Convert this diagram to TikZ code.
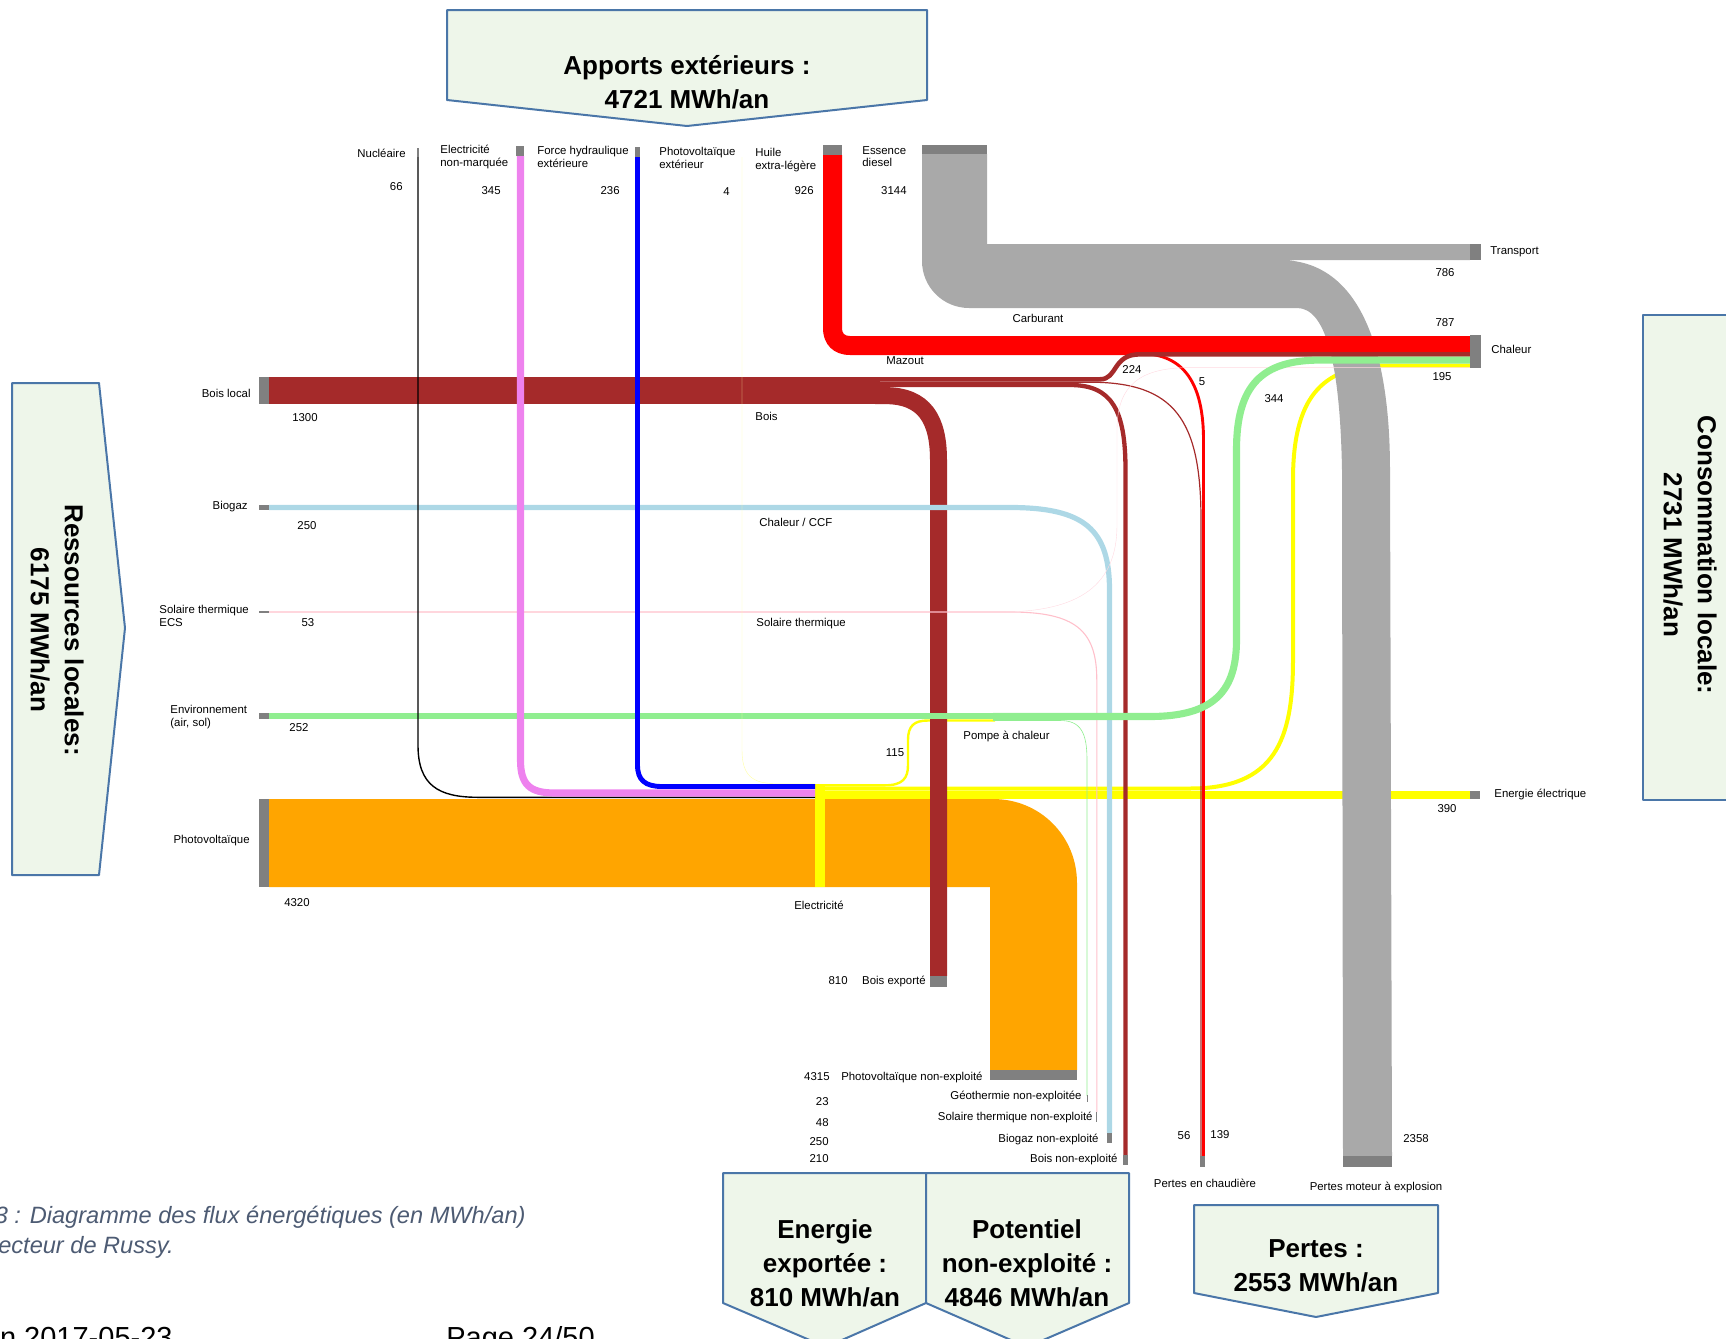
\documentclass[tikz,border=0pt]{standalone}
\usepackage{fontspec}
\setmainfont{Liberation Sans}
\usepackage{tikz}

\definecolor{boisC}{RGB}{165,42,42}
\definecolor{carbC}{RGB}{169,169,169}
\definecolor{markC}{RGB}{128,128,128}
\definecolor{biogazC}{RGB}{173,216,230}
\definecolor{solC}{RGB}{255,192,203}
\definecolor{envC}{RGB}{144,238,144}
\definecolor{pvC}{RGB}{255,165,0}
\definecolor{elecC}{RGB}{255,255,0}
\definecolor{nmC}{RGB}{238,130,238}
\definecolor{boxfill}{RGB}{238,246,234}
\definecolor{boxline}{RGB}{74,118,168}
\definecolor{capC}{RGB}{77,91,115}

\begin{document}
\begin{tikzpicture}[x=0.5pt, y=-0.5pt,
  bw/.style={line width=#1*0.5pt},
  lbl/.style={font=\fontsize{5.7}{6.1}\selectfont, inner sep=0pt, align=left},
  endbar/.style={fill=markC},
  bigbox/.style={fill=boxfill, draw=boxline, line width=1pt, line join=round},
  boxtxt/.style={font=\fontsize{13}{17}\selectfont\bfseries, align=center, inner sep=0pt}]
  \useasboundingbox (0,0) rectangle (1726,1339);
  \clip (0,0) rectangle (1726,1339);

  % photovoltaique local
  \fill[pvC] (269,799) -- (993,799) .. controls (1040,799) and (1077,836) .. (1077,883)
    -- (1077,1070) -- (990,1070) -- (990,887) -- (269,887) -- cycle;

  % electricite
  \fill[elecC] (825,790.5) rectangle (1470,799);
  \draw[elecC, bw=4] (825,788.5) -- (1190,788.5) .. controls (1275,788.5) and (1293,740) .. (1293,660)
    -- (1293,480) .. controls (1293,400) and (1320,365.6) .. (1385,365.6) -- (1470,365.6);
  \draw[elecC, bw=2.4] (815,785.3) -- (885,785.3) .. controls (903,785.3) and (908,778) .. (908,765)
    -- (908,740) .. controls (908,726) and (914,720.5) .. (928,720.5) -- (995,720.5);
  \fill[elecC] (815,786) rectangle (825,887);

  % carburant
  \fill[carbC] (922,154) -- (987,154) -- (987,244) -- (1470,244) -- (1470,260) -- (1282,260)
    .. controls (1365,262) and (1390,360) .. (1390,470) -- (1392,1156) -- (1343,1156) -- (1342,470)
    .. controls (1340,360) and (1325,308) .. (1297,308) -- (969,308)
    .. controls (943,308) and (922,287) .. (922,261) -- cycle;

  % mazout
  \fill[red] (823,155) -- (842,155) -- (842,328) .. controls (842,333) and (844,336) .. (850,336)
    -- (1470,336) -- (1470,352) -- (1140,352) -- (1140,355) -- (850,355)
    .. controls (834,355) and (823,345) .. (823,328) -- cycle;
  \draw[red, bw=2.9] (1140,353.6) .. controls (1185,353.6) and (1203.5,385) .. (1203.5,440) -- (1203.5,1156);

  % bois
  \fill[boisC] (269,377) rectangle (880,404);
  \draw[boisC, bw=4.6] (875,379.3) -- (1100,379.3) .. controls (1118,379.3) and (1112,354.3) .. (1140,354.3) -- (1470,354.3);
  \draw[boisC, bw=1.2] (875,382.2) -- (1090,382.2) .. controls (1175,382.2) and (1201,420) .. (1201,520) -- (1201,1156);
  \draw[boisC, bw=4.3] (875,385) -- (1070,385) .. controls (1112,385) and (1125.5,410) .. (1125.5,470) -- (1125.5,1155);
  \draw[boisC, bw=17] (875,395.6) -- (885,395.6) .. controls (925,395.6) and (938.5,420) .. (938.5,460) -- (938.5,976);

  % biogaz, solaire thermique, environnement
  \draw[biogazC, bw=5.2] (269,507.5) -- (1010,507.5) .. controls (1085,507.5) and (1109.5,530) .. (1109.5,590) -- (1109.5,1133);
  \draw[solC, bw=1.1] (269,612) -- (1010,612) .. controls (1075,612) and (1096.8,630) .. (1096.8,680) -- (1096.8,1112);
  \draw[solC!60, bw=0.4] (1000,612) .. controls (1080,612) and (1117,585) .. (1117,525)
    -- (1117,430) .. controls (1117,385) and (1140,367.6) .. (1190,367.6) -- (1470,367.6);
  \draw[envC, bw=5.2] (269,716) -- (995,716);
  \draw[envC, bw=7.1] (993,716.5) -- (1150,716.5) .. controls (1215,716.5) and (1236.5,690) .. (1236.5,640)
    -- (1236.5,450) .. controls (1236.5,385) and (1262,360.1) .. (1320,360.1) -- (1470,360.1);
  \draw[envC, bw=0.6] (993,720.5) -- (1060,720.5) .. controls (1081,720.5) and (1087,733) .. (1087,760) -- (1087,1096);

  % apports electriques exterieurs
  \draw[black, bw=1.4] (418,157) -- (418,745) .. controls (418,785) and (438,797.3) .. (478,797.3) -- (815,797.3);
  \draw[nmC, bw=7.1] (520.5,156) -- (520.5,760) .. controls (520.5,785) and (530,793) .. (555,793) -- (815,793);
  \draw[blue, bw=4.9] (637.5,157) -- (637.5,765) .. controls (637.5,780) and (645,786.5) .. (662,786.5) -- (815,786.5);
  \draw[elecC!35, bw=0.4] (742,157) -- (742,750) .. controls (742,775) and (752,783.5) .. (775,783.5) -- (815,783.5);

  % extremites
  \fill[endbar] (417.2,148) rectangle (418.8,157);
  \fill[endbar] (516,146) rectangle (524,156);
  \fill[endbar] (635,147) rectangle (640,157);
  \fill[endbar] (823,145) rectangle (842,155);
  \fill[endbar] (922,145) rectangle (987,154);
  \fill[endbar] (259,377) rectangle (269,404);
  \fill[endbar] (259,505) rectangle (269,510);
  \fill[endbar] (259,611.4) rectangle (269,612.6);
  \fill[endbar] (259,713.4) rectangle (269,718.6);
  \fill[endbar] (259,799) rectangle (269,887);
  \fill[endbar] (1470,244) rectangle (1481,260);
  \fill[endbar] (1470,335) rectangle (1481,367.8);
  \fill[endbar] (1470,790.5) rectangle (1480,799);
  \fill[endbar] (930,976) rectangle (947,987);
  \fill[endbar] (990,1070) rectangle (1077,1080);
  \fill[endbar] (1086.6,1095) rectangle (1087.4,1102);
  \fill[endbar] (1096.2,1112) rectangle (1097.4,1122);
  \fill[endbar] (1107,1133) rectangle (1112,1143);
  \fill[endbar] (1123,1155) rectangle (1128,1165);
  \fill[endbar] (1200.4,1156) rectangle (1205,1167);
  \fill[endbar] (1343,1156) rectangle (1392,1167);

  % libelles du haut
  \node[lbl, anchor=east] (tNuc) at (406,153) {Nucléaire};
  \node[lbl, anchor=east] (vNuc) at (403,187) {66};
  \node[lbl, anchor=west] (tNm) at (440,157) {Electricité\\non-marquée};
  \node[lbl, anchor=east] (vNm) at (501,191) {345};
  \node[lbl, anchor=west] (tHyd) at (537,157) {Force hydraulique\\extérieure};
  \node[lbl, anchor=east] (vHyd) at (620,191) {236};
  \node[lbl, anchor=west] (tPvx) at (659,158) {Photovoltaïque\\extérieur};
  \node[lbl, anchor=east] (vPvx) at (730,192) {4};
  \node[lbl, anchor=west] (tHui) at (755,160) {Huile\\extra-légère};
  \node[lbl, anchor=east] (vHui) at (814,191) {926};
  \node[lbl, anchor=west] (tEss) at (862,157) {Essence\\diesel};
  \node[lbl, anchor=east] (vEss) at (907,191) {3144};

  % libelles de gauche
  \node[lbl, anchor=east] (tBois) at (251,393) {Bois local};
  \node[lbl] (vBois) at (305,418) {1300};
  \node[lbl, anchor=east] (tBio) at (248,507) {Biogaz};
  \node[lbl] (vBio) at (307,526) {250};
  \node[lbl, anchor=west] (tSol) at (159,616) {Solaire thermique\\ECS};
  \node[lbl] (vSol) at (308,623) {53};
  \node[lbl, anchor=west] (tEnv) at (170,717) {Environnement\\(air, sol)};
  \node[lbl] (vEnv) at (299,728) {252};
  \node[lbl, anchor=east] (tPv) at (250,841) {Photovoltaïque};
  \node[lbl] (vPv) at (297,903) {4320};

  % noeuds intermediaires
  \node[lbl, anchor=west] (nBois) at (755,416) {Bois};
  \node[lbl, anchor=west] (nCcf) at (759,522) {Chaleur / CCF};
  \node[lbl, anchor=west] (nSol) at (756,624) {Solaire thermique};
  \node[lbl, anchor=west] (nPac) at (963,736) {Pompe à chaleur};
  \node[lbl] (v115) at (895,753) {115};
  \node[lbl] (nElec) at (819,905) {Electricité};
  \node[lbl] (nCarb) at (1038,318) {Carburant};
  \node[lbl, anchor=west] (nMaz) at (886,361) {Mazout};
  \node[lbl] (v224) at (1132,370) {224};
  \node[lbl] (v5) at (1202,382) {5};
  \node[lbl] (v344) at (1274,399) {344};

  % libelles de droite
  \node[lbl, anchor=west] (tTra) at (1490,252) {Transport};
  \node[lbl] (vTra) at (1445,273) {786};
  \node[lbl] (v787) at (1445,323) {787};
  \node[lbl, anchor=west] (tCha) at (1491,349) {Chaleur};
  \node[lbl] (v195) at (1442,377) {195};
  \node[lbl, anchor=west] (tEel) at (1494,794) {Energie électrique};
  \node[lbl] (vEel) at (1447,809) {390};

  % libelles du bas
  \node[lbl, anchor=east] (vExp) at (848,981) {810};
  \node[lbl, anchor=east] (tExp) at (926,981) {Bois exporté};
  \node[lbl, anchor=east] (vPvn) at (830,1077) {4315};
  \node[lbl, anchor=east] (tPvn) at (983,1077) {Photovoltaïque non-exploité};
  \node[lbl, anchor=east] (tGeo) at (1082,1096) {Géothermie non-exploitée};
  \node[lbl, anchor=east] (vGeo) at (829,1102) {23};
  \node[lbl, anchor=east] (tSoln) at (1093,1117) {Solaire thermique non-exploité};
  \node[lbl, anchor=east] (vSoln) at (829,1123) {48};
  \node[lbl, anchor=east] (tBion) at (1099,1139) {Biogaz non-exploité};
  \node[lbl, anchor=east] (vBion) at (829,1142) {250};
  \node[lbl, anchor=east] (tBoisn) at (1118,1159) {Bois non-exploité};
  \node[lbl, anchor=east] (vBoisn) at (829,1159) {210};
  \node[lbl] (v56) at (1184,1136) {56};
  \node[lbl] (v139) at (1220,1135) {139};
  \node[lbl] (v2358) at (1416,1139) {2358};
  \node[lbl] (tPch) at (1205,1183) {Pertes en chaudière};
  \node[lbl] (tPmo) at (1376,1187) {Pertes moteur à explosion};

  % cadres
  \draw[bigbox] (447,10) -- (927,10) -- (927,100) -- (687,126) -- (447,100) -- cycle;
  \node[boxtxt] (bApp) at (687,82) {Apports extérieurs :\\4721 MWh/an};
  \draw[bigbox] (12,383) -- (99,383) -- (125,628) -- (99,875) -- (12,875) -- cycle;
  \node[boxtxt, rotate=-90] (bRes) at (57,630) {Ressources locales:\\6175 MWh/an};
  \draw[bigbox] (1643,315) -- (1760,315) -- (1760,800) -- (1643,800) -- cycle;
  \node[boxtxt, rotate=-90] (bCon) at (1690,555) {Consommation locale:\\2731 MWh/an};
  \draw[bigbox] (723,1173) -- (926,1173) -- (926,1303) -- (826,1347) -- (723,1303) -- cycle;
  \node[boxtxt] (bExp) at (825,1263) {Energie\\exportée :\\810 MWh/an};
  \draw[bigbox] (926,1173) -- (1129,1173) -- (1129,1303) -- (1027,1347) -- (926,1303) -- cycle;
  \node[boxtxt] (bPot) at (1027,1263) {Potentiel\\non-exploité :\\4846 MWh/an};
  \draw[bigbox] (1194,1205) -- (1438,1205) -- (1438,1293) -- (1316,1317) -- (1194,1293) -- cycle;
  \node[boxtxt] (bPer) at (1316,1266) {Pertes :\\2553 MWh/an};

  % legende et pied de page
  \node[font=\fontsize{11.8}{13}\selectfont\itshape, text=capC, anchor=east, inner sep=0pt] (cap1) at (526,1217)
    {3 : Diagramme des flux énergétiques (en MWh/an)};
  \node[font=\fontsize{11.8}{13}\selectfont\itshape, text=capC, anchor=east, inner sep=0pt] (cap2) at (174,1247)
    {ecteur de Russy.};
  \node[font=\fontsize{14.5}{16}\selectfont, anchor=base east, inner sep=0pt] (foot1) at (173,1347) {n 2017-05-23};
  \node[font=\fontsize{14.5}{16}\selectfont, anchor=base west, inner sep=0pt] (foot2) at (446,1347) {Page 24/50};
\end{tikzpicture}
\end{document}
